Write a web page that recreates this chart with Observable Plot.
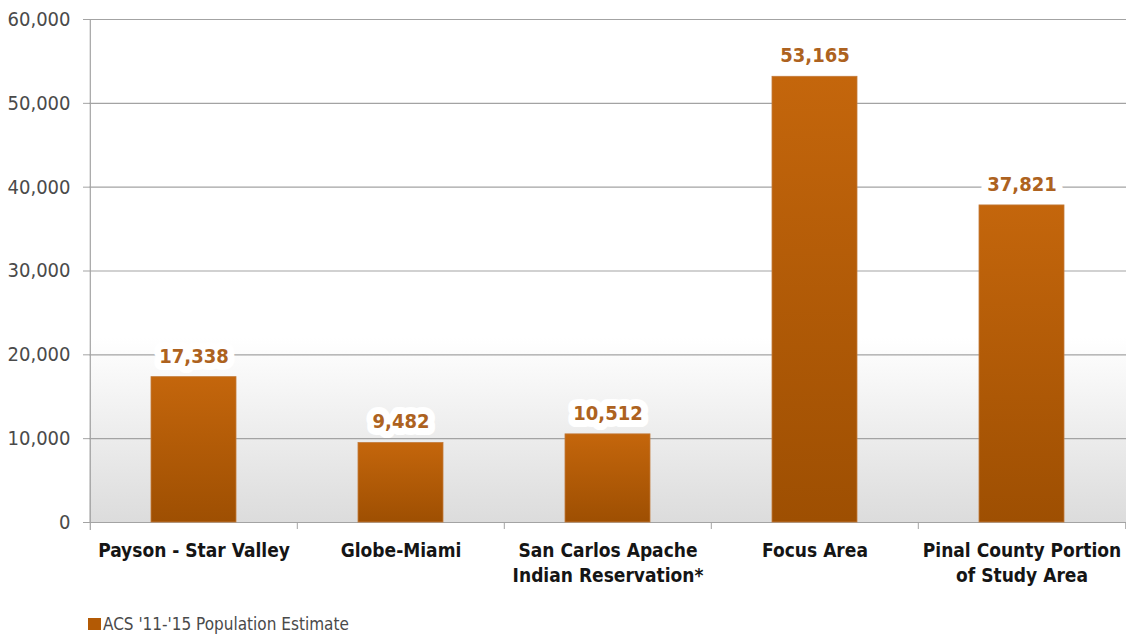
<!DOCTYPE html>
<html>
<head>
<meta charset="utf-8">
<script src="https://cdn.jsdelivr.net/npm/d3@7"></script>
<script src="https://cdn.jsdelivr.net/npm/@observablehq/plot@0.6"></script>
<style>
  html, body { margin: 0; padding: 0; background: #fff; }
  #chart { width: 1126px; }
  .legend { display: flex; align-items: center; margin-left: 88px; margin-top: 14px;
    font-family: "DejaVu Sans Condensed", "DejaVu Sans", sans-serif; font-stretch: condensed;
    font-size: 17px; color: #4a4a4a; }
  .legend .sw { width: 13px; height: 12px; background: #b35a05; margin-right: 2px; }
</style>
</head>
<body>
<div id="chart"></div>
<script>
const categories = [
  "Payson - Star Valley",
  "Globe-Miami",
  "San Carlos Apache\nIndian Reservation*",
  "Focus Area",
  "Pinal County Portion\nof Study Area"
];
const values = [17338, 9482, 10512, 53165, 37821];
const yTicks = [0, 10000, 20000, 30000, 40000, 50000, 60000];
const seriesName = "ACS '11-'15 Population Estimate";

const data = categories.map((c, i) => ({cat: c, value: values[i]}));
const shade = [{from: 0, to: 22000}];

const W = 1126, H = 600, ML = 89, MR = 0, MT = 19, MB = 78;
const step = (W - ML - MR) / categories.length;
const font = '"DejaVu Sans Condensed", "DejaVu Sans", sans-serif';

const defs = () => {
  const g = d3.create("svg:defs");
  const bar = g.append("linearGradient").attr("id", "barGrad")
    .attr("x1", 0).attr("y1", 0).attr("x2", 0).attr("y2", 1);
  bar.append("stop").attr("offset", "0%").attr("stop-color", "#c4660c");
  bar.append("stop").attr("offset", "100%").attr("stop-color", "#9e4f02");
  const bg = g.append("linearGradient").attr("id", "bgGrad")
    .attr("x1", 0).attr("y1", 0).attr("x2", 0).attr("y2", 1);
  bg.append("stop").attr("offset", "0%").attr("stop-color", "#ffffff");
  bg.append("stop").attr("offset", "100%").attr("stop-color", "#dcdcdc");
  return g.node();
};

const chart = Plot.plot({
  width: W, height: H,
  marginLeft: ML, marginRight: MR, marginTop: MT, marginBottom: MB,
  style: {fontFamily: font, fontStretch: "condensed", background: "white", color: "#4a4a4a"},
  x: {domain: categories, paddingInner: 0.59, paddingOuter: 0.295, axis: null},
  y: {domain: [0, 60000], axis: null},
  marks: [
    defs,
    Plot.rect(shade, {y1: "from", y2: "to", fill: "url(#bgGrad)"}),
    Plot.ruleY(yTicks, {stroke: "#a3a3a3", strokeWidth: 1.2}),
    Plot.axisY({ticks: yTicks, tickSize: 6, tickPadding: 13, tickFormat: d3.format(","),
      fontSize: 20, stroke: "#a3a3a3", fill: "#4a4a4a", label: null}),
    Plot.ruleX([categories[0]], {x: d => d, dx: -step / 2, stroke: "#a3a3a3", strokeWidth: 1.2, insetBottom: -8}),
    Plot.ruleX(categories.slice(1), {x: d => d, dx: -step / 2, y1: 0, y2: 0, stroke: "#a3a3a3", insetBottom: -7}),
    Plot.ruleX([categories[categories.length - 1]], {x: d => d, dx: step / 2, y1: 0, y2: 0, stroke: "#a3a3a3", insetBottom: -7}),
    Plot.barY(data, {x: "cat", y: "value", fill: "url(#barGrad)", stroke: "#c27a3a", strokeWidth: 0.8}),
    Plot.text(data, {x: "cat", y: "value", text: d => d3.format(",")(d.value), dy: -21,
      fill: "#ad6220", fontWeight: "bold", fontSize: 20, stroke: "white", strokeWidth: 14,
      strokeLinejoin: "round"}),
    Plot.axisX({tickSize: 0, tickPadding: 17, fontSize: 19, fontWeight: "bold",
      fill: "#151515", lineHeight: 1.3, lineAnchor: "top", label: null})
  ]
});
document.getElementById("chart").appendChild(chart);

const legend = document.createElement("div");
legend.className = "legend";
legend.innerHTML = '<div class="sw"></div><span></span>';
legend.querySelector("span").textContent = seriesName;
document.getElementById("chart").appendChild(legend);
</script>
</body>
</html>
